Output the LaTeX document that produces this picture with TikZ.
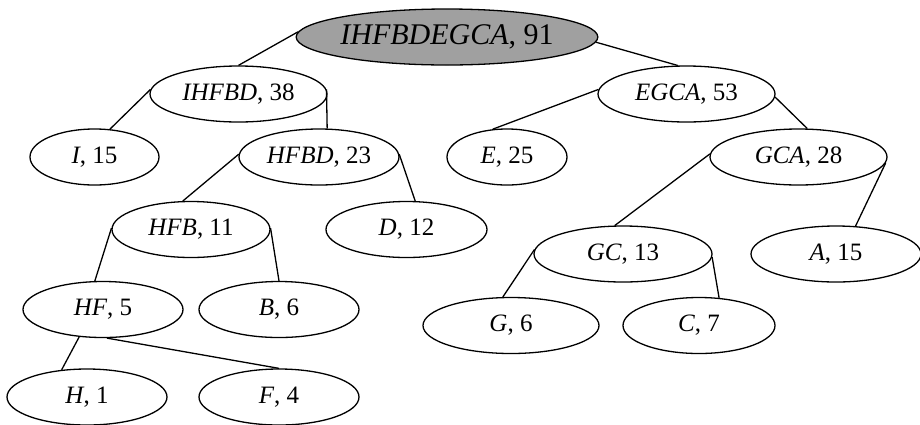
\documentclass[tikz,border=0pt]{standalone}
\usepackage{fontspec}
\setmainfont{Liberation Serif}
\usetikzlibrary{shapes.geometric}
\definecolor{rootfill}{RGB}{160,160,160}
\begin{document}
\begin{tikzpicture}[x=1pt,y=-1pt,
  nd/.style={ellipse, draw, line width=1.3pt, inner sep=0pt,
             minimum height=56pt, font=\fontsize{25}{30}\selectfont},
  edge/.style={line width=1.3pt}]
\useasboundingbox (0,0) rectangle (920,424);

% tree nodes: set of letters and total weight
\node[nd, fill=rootfill, minimum width=274pt, font=\fontsize{30}{36}\selectfont]
      (root) at (447,37) {\textit{IHFBDEGCA}, 91};
\node[nd, minimum width=177pt] (ihfbd) at (238.5,94)  {\textit{IHFBD}, 38};
\node[nd, minimum width=177pt] (egca)  at (686.5,94)  {\textit{EGCA}, 53};
\node[nd, minimum width=129pt] (i)     at (94.5,157)  {\textit{I}, 15};
\node[nd, minimum width=160pt] (hfbd)  at (319,157)   {\textit{HFBD}, 23};
\node[nd, minimum width=120pt] (e)     at (507,157)   {\textit{E}, 25};
\node[nd, minimum width=177pt] (gca)   at (798.5,157) {\textit{GCA}, 28};
\node[nd, minimum width=158pt] (hfb)   at (191,229.5) {\textit{HFB}, 11};
\node[nd, minimum width=161pt] (d)     at (406.5,229.5) {\textit{D}, 12};
\node[nd, minimum width=178pt] (gc)    at (623,254)   {\textit{GC}, 13};
\node[nd, minimum width=170pt] (a)     at (836,254)   {\textit{A}, 15};
\node[nd, minimum width=160pt] (hf)    at (103,309.5) {\textit{HF}, 5};
\node[nd, minimum width=160pt] (b)     at (279,309.5) {\textit{B}, 6};
\node[nd, minimum width=176pt] (g)     at (511,325.5) {\textit{G}, 6};
\node[nd, minimum width=152pt] (c)     at (699,325.5) {\textit{C}, 7};
\node[nd, minimum width=160pt] (h)     at (87,397)    {\textit{H}, 1};
\node[nd, minimum width=160pt] (f)     at (279,397)   {\textit{F}, 4};

% parent-child links
\draw[edge] (root.178)  -- (ihfbd.north);
\draw[edge] (root.358)  -- (egca.107);
\draw[edge] (ihfbd.177) -- (i.61);
\draw[edge] (ihfbd.3)   -- (hfbd.74);
\draw[edge] (hfbd.178)  -- (hfb.106);
\draw[edge] (hfbd.2)    -- (d.73);
\draw[edge] (hfb.179)   -- (hf.106);
\draw[edge] (hfb.1)     -- (b.north);
\draw[edge] (hf.229)    -- (h.133);
\draw[edge] (hf.278)    -- (f.north);
\draw[edge] (egca.177)  -- (e.117);
\draw[edge] (egca.358)  -- (gca.73);
\draw[edge] (gca.178)   -- (gc.106);
\draw[edge] (gca.356)   -- (a.55);
\draw[edge] (gc.177)    -- (g.106);
\draw[edge] (gc.358)    -- (c.54);
\end{tikzpicture}
\end{document}
